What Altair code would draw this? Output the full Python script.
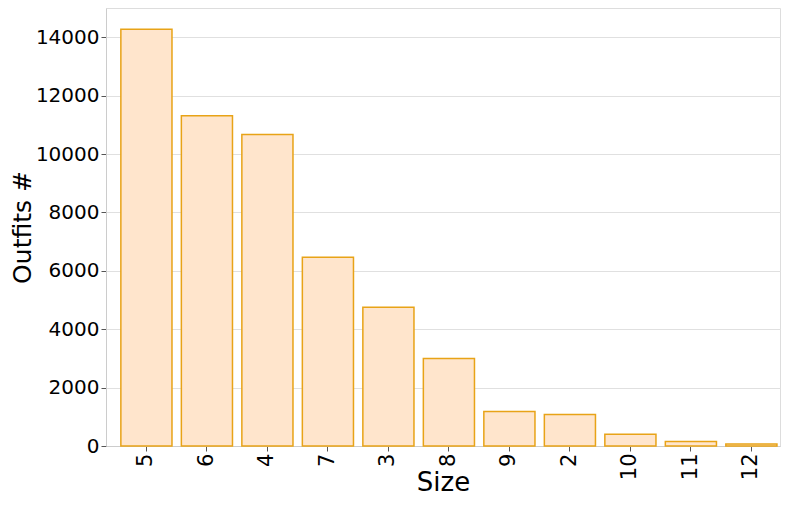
import altair as alt
import pandas as pd

sizes = ["5", "6", "4", "7", "3", "8", "9", "2", "10", "11", "12"]
counts = [14270, 11310, 10670, 6460, 4750, 2995, 1180, 1075, 405, 150, 65]

df = pd.DataFrame({"Size": sizes, "Outfits": counts})

FONT = "DejaVu Sans"

chart = alt.Chart(df).mark_bar(
    fill="#FFE5CC", stroke="#E8A317", strokeWidth=1.5
).encode(
    x=alt.X("Size:N", sort=None,
            scale=alt.Scale(paddingInner=0.155, paddingOuter=0.148, align=0.83),
            axis=alt.Axis(title="Size", labelAngle=-90, labelAlign="right",
                          labelBaseline="middle", labelFontSize=21, labelFont=FONT,
                          labelColor="black", titleFontSize=26, titleFont=FONT,
                          titleFontWeight="normal", titleColor="black",
                          titleBaseline="alphabetic", titleY=44,
                          tickSize=5, tickColor="#555555", domainColor="#cccccc",
                          labelPadding=2, grid=False)),
    y=alt.Y("Outfits:Q", scale=alt.Scale(domain=[0, 15000], nice=False),
            axis=alt.Axis(title="Outfits #", values=list(range(0, 14001, 2000)),
                          format="d",
                          labelFontSize=20, labelFont=FONT, labelColor="black",
                          titleFontSize=25, titleFont=FONT, titleFontWeight="normal",
                          titleColor="black", tickSize=5, tickColor="#555555",
                          domainColor="#cccccc", gridColor="#e0e0e0", labelPadding=2,
                          titlePadding=0)),
).properties(
    width=674, height=438,
    autosize=alt.AutoSizeParams(type="none"),
    padding={"left": 98, "top": 0, "right": 1, "bottom": 51},
).configure_view(stroke="#dddddd", strokeWidth=1)

chart.save("out.html", embed_options={"renderer": "svg", "actions": False})
